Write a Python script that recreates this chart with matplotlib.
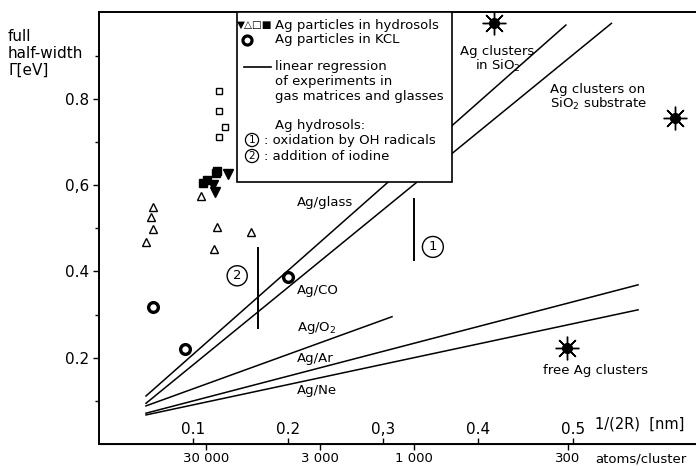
import matplotlib.pyplot as plt
from matplotlib.lines import Line2D
from matplotlib.patches import Rectangle

plt.rcParams['font.family'] = 'DejaVu Sans'

# Ag particles in hydrosols
open_sq_x = [0.127, 0.127, 0.133, 0.127]
open_sq_y = [0.818, 0.773, 0.736, 0.713]
fill_sq_x = [0.110, 0.114, 0.124, 0.125]
fill_sq_y = [0.605, 0.612, 0.628, 0.634]
down_tri_x = [0.136, 0.123, 0.121]
down_tri_y = [0.626, 0.585, 0.601]
open_tri_x = [0.108, 0.057, 0.055, 0.057, 0.125, 0.161, 0.050, 0.122]
open_tri_y = [0.576, 0.549, 0.527, 0.498, 0.504, 0.492, 0.468, 0.452]

# Ag particles in KCL
kcl_x = [0.057, 0.091, 0.199]
kcl_y = [0.318, 0.219, 0.388]

# clusters (SiO2, SiO2 substrate, free)
star_x = [0.416, 0.607, 0.493]
star_y = [0.976, 0.756, 0.222]

# linear regression lines: (x0, x1), (y0, y1)
reg_names = ["Ag/glass", "Ag/CO", "Ag/O$_2$", "Ag/Ar", "Ag/Ne"]
reg_x = [(0.050, 0.492), (0.050, 0.540), (0.050, 0.309), (0.050, 0.568), (0.050, 0.568)]
reg_y = [(0.111, 0.972), (0.094, 0.976), (0.088, 0.295), (0.071, 0.369), (0.067, 0.311)]
reg_label_y = [0.560, 0.357, 0.268, 0.199, 0.123]

# hydrosol ranges: 1 oxidation, 2 iodine
bar_x = [0.332, 0.168]
bar_lo = [0.427, 0.268]
bar_hi = [0.568, 0.455]

inv_ticks = [0.1, 0.2, 0.3, 0.4, 0.5]
inv_labels = ["0.1", "0.2", "0,3", "0.4", "0.5"]
atoms_pos = [0.113, 0.233, 0.332, 0.494]
atoms_labels = ["30 000", "3 000", "1 000", "300"]

W, H = 696, 466
fig = plt.figure(figsize=(W / 100, H / 100), dpi=100)
ax = fig.add_axes([98.5 / W, (H - 443.8) / H, 1 - 98.5 / W, (443.8 - 11.7) / H])
ax.set_xlim(0, 0.629)
ax.set_ylim(0, 1.003)

for s in ["left", "top", "bottom"]:
    ax.spines[s].set_linewidth(1.4)
ax.spines["right"].set_visible(False)

for (x0, x1), (y0, y1) in zip(reg_x, reg_y):
    ax.plot([x0, x1], [y0, y1], color="black", lw=1.1)
for name, ly in zip(reg_names, reg_label_y):
    ax.text(0.209, ly, name, fontsize=9.5, va="center", ha="left")

for bx, lo, hi in zip(bar_x, bar_lo, bar_hi):
    ax.plot([bx, bx], [lo, hi], color="black", lw=1.4)
ax.text(0.352, 0.457, "1", fontsize=9.5, ha="center", va="center",
        bbox=dict(boxstyle="circle,pad=0.3", fc="white", ec="black", lw=1))
ax.text(0.146, 0.390, "2", fontsize=9.5, ha="center", va="center",
        bbox=dict(boxstyle="circle,pad=0.27", fc="white", ec="black", lw=1))

ax.plot(open_sq_x, open_sq_y, "s", ms=5, mfc="white", mec="black", mew=1, ls="none")
ax.plot(fill_sq_x, fill_sq_y, "s", ms=5.5, color="black", ls="none")
ax.plot(down_tri_x, down_tri_y, "v", ms=6.5, color="black", ls="none")
ax.plot(open_tri_x, open_tri_y, "^", ms=6, mfc="white", mec="black", mew=1, ls="none")
ax.plot(kcl_x, kcl_y, "o", ms=7, mfc="white", mec="black", mew=2.4, ls="none")
ax.plot(star_x, star_y, marker=(8, 2, 0), ms=17, color="black", mew=1, ls="none")
ax.plot(star_x, star_y, "o", ms=7, color="black", ls="none")

ax.text(0.420, 0.893, "Ag clusters\nin SiO$_2$", fontsize=9.5, ha="center", va="center",
        linespacing=1.0)
ax.text(0.475, 0.803, "Ag clusters on\nSiO$_2$ substrate", fontsize=9.5, ha="left",
        va="center", linespacing=1.0)
ax.text(0.468, 0.171, "free Ag clusters", fontsize=9.5, ha="left", va="center")
ax.text(0.523, 0.045, "1/(2R)  [nm]", fontsize=10.5, ha="left", va="center")
ax.text(0.523, -0.035, "atoms/cluster", fontsize=9.5, ha="left", va="center", clip_on=False)

ax.set_yticks([0.2, 0.4, 0.6, 0.8], labels=["0.2", "0.4", "0,6", "0.8"])
ax.set_yticks([0.1, 0.3, 0.5, 0.7, 0.9], minor=True)
ax.tick_params(axis="y", which="major", direction="out", length=4, width=1,
               labelsize=11, pad=3)
ax.tick_params(axis="y", which="minor", direction="out", length=3, width=1)

ax.set_xticks(inv_ticks, labels=inv_labels)
ax.tick_params(axis="x", direction="in", length=4, width=1, labelsize=11, pad=-16)

sec = ax.secondary_xaxis("bottom")
sec.set_xticks(atoms_pos, labels=atoms_labels)
sec.tick_params(direction="out", length=4, width=1, labelsize=9.5, pad=2)


def fx(px):
    return px / W


def fy(py):
    return 1 - py / H


# legend box drawn by hand, on top of the regression lines
ft = fig.transFigure
ax.add_patch(Rectangle((fx(237), fy(182)), fx(452) - fx(237), fy(12) - fy(182),
                       transform=ft, fc="white", ec="black", lw=1.2,
                       zorder=10, clip_on=False))
lk = dict(fontsize=9.5, va="center", ha="left", zorder=11, transform=ft)
ax.text(fx(237), fy(26), "\u25bc\u25b3\u25a1\u25a0", fontsize=7.5, va="center", ha="left",
        zorder=11, transform=ft)
ax.text(fx(275), fy(26), "Ag particles in hydrosols", **lk)
ax.add_line(Line2D([fx(247)], [fy(40)], marker="o", ms=6.5, mfc="white", mec="black",
                   mew=2.3, transform=ft, zorder=11, clip_on=False))
ax.text(fx(275), fy(40), "Ag particles in KCL", **lk)
ax.add_line(Line2D([fx(244), fx(271)], [fy(66.7), fy(66.7)], color="black", lw=1.2,
                   transform=ft, zorder=11, clip_on=False))
ax.text(fx(275), fy(66.7), "linear regression", **lk)
ax.text(fx(275), fy(81.7), "of experiments in", **lk)
ax.text(fx(275), fy(96.7), "gas matrices and glasses", **lk)
ax.text(fx(275), fy(125), "Ag hydrosols:", **lk)
ax.text(fx(252), fy(140), "1", fontsize=7.5, ha="center", va="center", zorder=11,
        transform=ft, bbox=dict(boxstyle="circle,pad=0.15", fc="white", ec="black", lw=0.9))
ax.text(fx(264), fy(140), ": oxidation by OH radicals", **lk)
ax.text(fx(252), fy(156), "2", fontsize=7.5, ha="center", va="center", zorder=11,
        transform=ft, bbox=dict(boxstyle="circle,pad=0.15", fc="white", ec="black", lw=0.9))
ax.text(fx(264), fy(156), ": addition of iodine", **lk)

# axis title in the top-left corner
fig.text(fx(8), fy(53), "full\nhalf-width\n\u0393[eV]", fontsize=11, ha="left", va="center",
         linespacing=1.15)

fig.savefig("out.png", dpi=100)
